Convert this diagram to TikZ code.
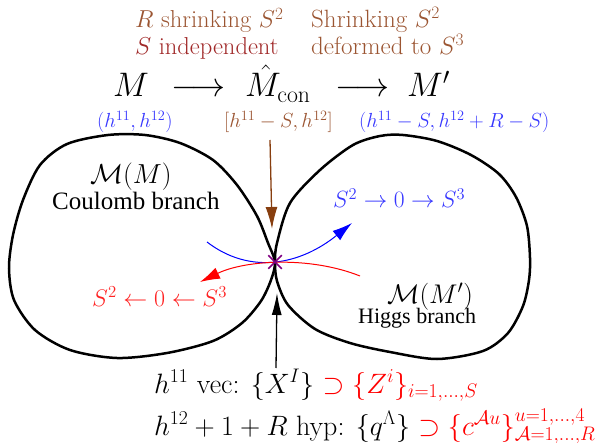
\RequirePackage{fix-cm}
\documentclass[tikz,border=0pt]{standalone}
\usepackage{fontspec}
\newfontfamily\timesfont{Liberation Serif}
\usetikzlibrary{arrows.meta,shapes.misc}
\definecolor{brn}{RGB}{155,85,50}
\definecolor{dred}{RGB}{160,40,40}
\definecolor{lblue}{RGB}{55,55,255}
\definecolor{lred}{RGB}{255,35,35}
\definecolor{arrbrown}{RGB}{135,62,15}
\definecolor{purp}{RGB}{128,0,128}
\newcommand\fsz[1]{\fontsize{#1}{#1}\selectfont}
\tikzset{
  txt/.style={inner sep=0pt, anchor=base west},
  blob/.style={line width=2.5pt, black},
  thinarrow/.style={line width=1.3pt},
}
\begin{document}
\begin{tikzpicture}[x=1pt,y=-1pt]
\useasboundingbox (0,0) rectangle (612,443);
% top texts
\node[txt,text=brn,font=\fsz{24.5}] (t1) at (135,28) {$R$ shrinking $S^2$};
\node[txt,text=dred,font=\fsz{24.5}] (t2) at (135,55) {$S$ independent};
\node[txt,text=brn,font=\fsz{25}] (t3) at (311,28) {Shrinking $S^2$};
\node[txt,text=brn,font=\fsz{25}] (t4) at (311,55) {deformed to $S^3$};
% main row
\node[txt,font=\fsz{34}] (M) at (113,97) {$M$};
\node[txt,font=\fsz{34}] (a1) at (171,97) {$\longrightarrow$};
\node[txt,font=\fsz{34}] (Mc) at (245,97) {$\hat M_{\mathrm{con}}$};
\node[txt,font=\fsz{34}] (a2) at (335,97) {$\longrightarrow$};
\node[txt,font=\fsz{34}] (Mp) at (407,97) {$M'$};
% hodge labels
\node[txt,text=lblue,font=\fsz{20.4}] (hl) at (97,128) {$(h^{11},h^{12})$};
\node[txt,text=brn,font=\fsz{20.4}] (hc) at (224,128) {$[h^{11}-S,h^{12}]$};
\node[txt,text=lblue,font=\fsz{20.4}] (hr) at (359,128) {$(h^{11}-S,h^{12}+R-S)$};
% blobs
\draw[blob] plot[smooth cycle] coordinates {(275,262) (268,243) (257,216) (237,185) (213,160) (180,143) (145,135) (108,135) (67,144) (40,165) (23,200) (13,235) (9,268) (14,300) (35,330) (70,350) (117,358) (167,353) (213,341) (242,323) (261,301) (271,280)};
\draw[blob] plot[smooth cycle] coordinates {(275,262) (277,281) (288,305) (315,329) (350,343) (390,352) (437,359) (483,351) (508,333) (523,306) (529,280) (530,258) (527,226) (516,197) (499,174) (471,155) (437,141) (403,135) (380,136) (353,145) (320,170) (290,203) (277,243)};
% region labels
\node[txt,font=\fsz{27.5}] (mM) at (90,184) {$\mathcal{M}(M)$};
\node[txt,font=\timesfont\fsz{25}] (cb) at (52,210) {Coulomb branch};
\node[txt,font=\fsz{27}] (mMp) at (387,303) {$\mathcal{M}(M')$};
\node[txt,font=\timesfont\fsz{22}] (hb) at (358,323) {Higgs branch};
\node[txt,text=lblue,font=\fsz{23.5}] (bl) at (333,208) {$S^2\to 0\to S^3$};
\node[txt,text=lred,font=\fsz{24}] (rl) at (92,306) {$S^2\leftarrow 0\leftarrow S^3$};
% conifold point
\coordinate (X) at (275,262);
\coordinate (blS) at (207,242);
\coordinate (blE) at (352,223);
\coordinate (rdS) at (360,276);
\coordinate (rdE) at (200,282);
\draw[blue, line width=1pt, -{Latex[length=20pt,width=12pt]}] (blS) .. controls (250,275) and (300,265) .. (blE);
\draw[red, line width=1pt, -{Latex[length=20pt,width=12pt]}] (rdS) .. controls (310,256) and (245,260) .. (rdE);
\node[cross out, draw=purp, line width=1.5pt, minimum size=12pt, inner sep=0pt] (Xc) at (X) {};
% arrows
\coordinate (brS) at (270,140);
\coordinate (brE) at (272,229);
\draw[arrbrown, thinarrow, -{Latex[length=22pt,width=12pt]}] (brS) -- (brE);
\coordinate (bkS) at (276,368);
\coordinate (bkE) at (277,293);
\draw[black, thinarrow, -{Latex[length=22pt,width=10pt]}] (bkS) -- (bkE);
% bottom text
\node[txt,font=\fsz{28}] (b1) at (154,393) {$h^{11}$ vec: $\{X^I\}$ \textcolor{red}{$\supset\{Z^i\}_{i=1,\ldots,S}$}};
\node[txt,font=\fsz{28}] (b2) at (154,435) {$h^{12}+1+R$ hyp: $\{q^\Lambda\}$ \textcolor{red}{$\supset\{c^{\mathcal{A}u}\}^{u=1,\ldots,4}_{\mathcal{A}=1,\ldots,R}$}};
\end{tikzpicture}
\end{document}
